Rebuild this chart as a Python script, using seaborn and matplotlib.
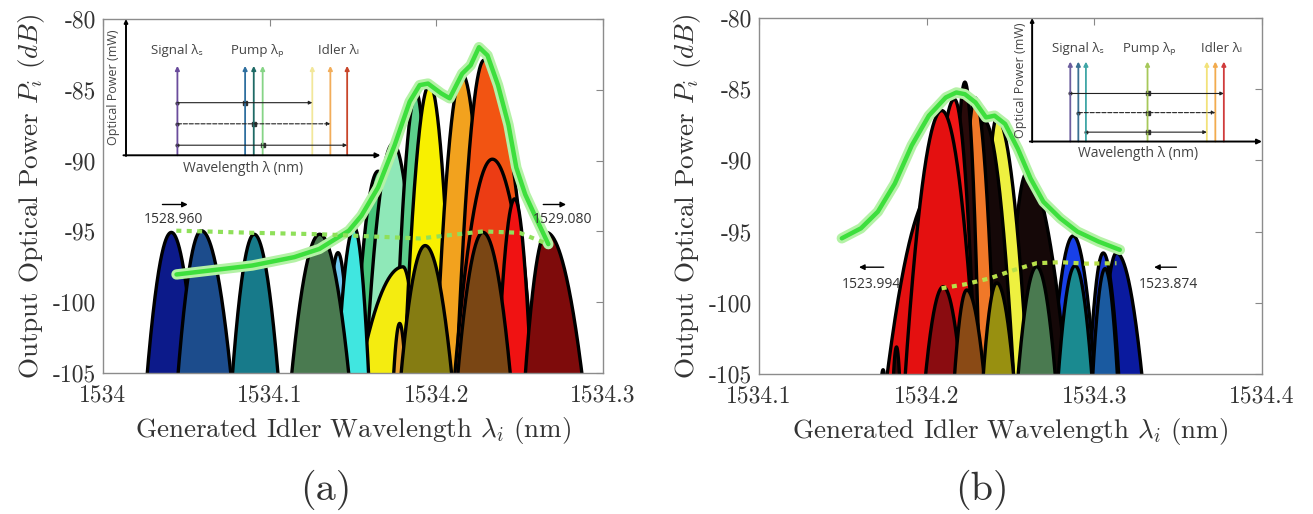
import numpy as np
import matplotlib
matplotlib.use("Agg")
import matplotlib.pyplot as plt
import seaborn as sns

sns.set_theme(style="white")
plt.rcParams["font.family"] = ["cmr10", "Liberation Serif", "DejaVu Serif"]
plt.rcParams["mathtext.fontset"] = "cm"
plt.rcParams["axes.unicode_minus"] = False
plt.rcParams["axes.formatter.use_mathtext"] = True

SANS = ["Open Sans", "DejaVu Sans"]
TXT = "#333333"
SHAPE = 2.0  # peak profile exponent (dB drop ~ |dx|^SHAPE)

# ---------------- panel (a) data ----------------
A_XTICKS = [1534.0, 1534.1, 1534.2, 1534.3]
A_XTICKLABELS = ["1534", "1534.1", "1534.2", "1534.3"]
YTICKS = [-105, -100, -95, -90, -85, -80]
YTICKLABELS = ["-105", "-100", "-95", "-90", "-85", "-80"]

# high (strong) idlers, drawn first, in this order
A_HI_CENTER = [1534.165, 1534.174, 1534.188, 1534.180, 1534.196, 1534.141, 1534.1507,
               1534.178, 1534.2155, 1534.2287, 1534.2336, 1534.247]
A_HI_PEAK = [-90.75, -88.8, -85.2, -97.5, -84.6, -96.5, -94.7,
             -101.5, -83.9, -82.9, -89.9, -92.7]
A_HI_WL = [0.012, 0.013, 0.009, 0.030, 0.0107, 0.008, 0.0100,
           0.006, 0.011, 0.0111, 0.0183, 0.0093]
A_HI_WR = [0.012, 0.013, 0.007, 0.010, 0.0098, 0.008, 0.0085,
           0.006, 0.011, 0.020, 0.020, 0.0088]
A_HI_COLOR = ["#46c47a", "#8fe8b8", "#5ccf8c", "#f4ec10", "#f8f000", "#70c8f0", "#40e6e0",
              "#e8a030", "#f2a21e", "#f25412", "#ec3c14", "#f01212"]

# low idlers, drawn on top
A_LO_CENTER = [1534.041, 1534.059, 1534.0907, 1534.130, 1534.1933, 1534.228, 1534.266]
A_LO_PEAK = [-95.07, -94.95, -95.2, -95.2, -96.0, -95.07, -95.07]
A_LO_WL = [0.0145, 0.0139, 0.0131, 0.0169, 0.0152, 0.0151, 0.0126]
A_LO_WR = [0.0145, 0.0176, 0.0144, 0.0176, 0.0167, 0.0164, 0.0214]
A_LO_COLOR = ["#0c1a8a", "#1c4c8c", "#177a8a", "#4a7a50", "#857c12", "#7a4614", "#7e0b0b"]

A_ENV_X = [1534.0441, 1534.0895, 1534.1147, 1534.1298, 1534.1475, 1534.155, 1534.165,
           1534.175, 1534.184, 1534.190, 1534.195, 1534.203, 1534.208, 1534.2155,
           1534.2206, 1534.2256, 1534.2307, 1534.237, 1534.2433, 1534.248, 1534.2533,
           1534.2596, 1534.2672]
A_ENV_Y = [-98.04, -97.41, -96.82, -96.24, -94.95, -93.9, -91.9,
           -88.9, -85.84, -84.67, -84.56, -85.26, -85.6, -83.86,
           -83.27, -81.99, -82.57, -84.67, -87.48, -90.5, -92.38,
           -94.0, -95.9]

A_DOT_X = [1534.044, 1534.06, 1534.09, 1534.13, 1534.15, 1534.19, 1534.228, 1534.25, 1534.267]
A_DOT_Y = [-94.95, -95.0, -95.1, -95.2, -95.3, -95.5, -95.0, -95.1, -95.9]

# ---------------- panel (b) data ----------------
B_XTICKS = [1534.1, 1534.2, 1534.3, 1534.4]
B_XTICKLABELS = ["1534.1", "1534.2", "1534.3", "1534.4"]

# high idlers, drawn right to left
B_HI_CENTER = [1534.3132, 1534.3053, 1534.2874, 1534.262, 1534.2596, 1534.2418,
               1534.2342, 1534.2288, 1534.2228, 1534.2165, 1534.205, 1534.209,
               1534.182, 1534.174]
B_HI_PEAK = [-96.5, -96.5, -95.3, -92.8, -90.9, -87.0,
             -87.2, -85.6, -84.5, -85.7, -92.0, -86.5,
             -103.1, -104.7]
B_HI_WL = [0.010, 0.009, 0.013, 0.008, 0.010, 0.007,
           0.008, 0.007, 0.006, 0.012, 0.025, 0.016,
           0.004, 0.004]
B_HI_WR = [0.0164, 0.010, 0.013, 0.016, 0.020, 0.0138,
           0.0132, 0.0086, 0.0060, 0.0090, 0.014, 0.015,
           0.004, 0.004]
B_HI_COLOR = ["#0a1a9e", "#1a3ad6", "#1840e8", "#50c8e8", "#150808", "#eef040",
              "#150808", "#f07828", "#2a0a0a", "#f01616", "#e41010", "#e41010",
              "#3a0808", "#3a0808"]

B_LO_CENTER = [1534.2099, 1534.2239, 1534.2418, 1534.2656, 1534.2885, 1534.3064]
B_LO_PEAK = [-98.87, -99.1, -98.6, -97.46, -97.4, -97.6]
B_LO_WL = [0.0134, 0.0094, 0.0100, 0.0127, 0.0114, 0.0085]
B_LO_WR = [0.0134, 0.0133, 0.0125, 0.0127, 0.0114, 0.0085]
B_LO_COLOR = ["#8a0c10", "#8a4a15", "#989010", "#4a7a50", "#1a8a90", "#1a5aa0"]

B_ENV_X = [1534.1494, 1534.1608, 1534.1709, 1534.181, 1534.1911, 1534.2013, 1534.2114,
           1534.2177, 1534.2228, 1534.2291, 1534.2354, 1534.2405, 1534.2468, 1534.2544,
           1534.262, 1534.2696, 1534.2797, 1534.2899, 1534.3025, 1534.3152]
B_ENV_Y = [-95.47, -94.77, -93.6, -91.63, -88.95, -86.86, -85.58,
           -85.23, -85.35, -85.93, -86.98, -86.86, -87.44, -89.19,
           -91.28, -92.9, -94.07, -95.0, -95.7, -96.28]

B_DOT_X = [1534.2089, 1534.223, 1534.2377, 1534.252, 1534.2655, 1534.28, 1534.295, 1534.3132]
B_DOT_Y = [-98.98, -98.7, -98.28, -97.7, -97.22, -97.15, -97.25, -97.22]

# ---------------- inset schematics ----------------
A_INS_LINE_X = [0.202, 0.468, 0.502, 0.537, 0.732, 0.803, 0.869]
A_INS_LINE_C = ["#6a4c9c", "#2f6f9f", "#1f6a66", "#86d486", "#f2e79a", "#f2ad5a", "#c8452a"]
A_INS_ARR_Y = [0.386, 0.231, 0.074]
A_INS_ARR_FROM = [0.202, 0.202, 0.202]
A_INS_ARR_TO = [0.732, 0.803, 0.869]
A_INS_ARR_MARK = [0.468, 0.502, 0.537]
A_INS_LAB_X = [0.198, 0.516, 0.835]

B_INS_LINE_X = [0.166, 0.201, 0.234, 0.502, 0.760, 0.797, 0.834]
B_INS_LINE_C = ["#6c5e9e", "#3a7092", "#3fa6a6", "#a6c85a", "#f2e27a", "#f2ab4e", "#d03c3c"]
B_INS_ARR_Y = [0.389, 0.234, 0.076]
B_INS_ARR_FROM = [0.166, 0.201, 0.234]
B_INS_ARR_TO = [0.834, 0.797, 0.760]
B_INS_ARR_MARK = [0.502, 0.502, 0.502]
B_INS_LAB_X = [0.197, 0.511, 0.825]

INS_LABELS = ["Signal λₛ", "Pump λₚ", "Idler λᵢ"]
ARR_STYLES = ["-", "--", "-"]


def peak_curve(x, c, pk, wl, wr):
    d = x - c
    w = np.where(d < 0, wl, wr)
    return pk - 10.0 * (np.abs(d) / w) ** SHAPE


def draw_peaks(ax, x, centers, peaks, wls, wrs, colors):
    for c, pk, wl, wr, col in zip(centers, peaks, wls, wrs, colors):
        y = peak_curve(x, c, pk, wl, wr)
        m = y > -106
        ax.fill_between(x[m], -106, y[m], color=col, lw=0, zorder=2)
        ax.plot(x[m], y[m], color="black", lw=2.4, zorder=2)


def draw_inset(ax, rect, line_x, line_c, top, arr_y, arr_from, arr_to, arr_mark, lab_x, lab_y):
    ins = ax.inset_axes(rect)
    ins.set_xlim(0, 1)
    ins.set_ylim(0, 1)
    ins.axis("off")
    ins.patch.set_alpha(0)
    for x, c in zip(line_x, line_c):
        ins.annotate("", xy=(x, top), xytext=(x, 0),
                     arrowprops=dict(arrowstyle="-|>", color=c, lw=1.3,
                                     mutation_scale=6, shrinkA=0, shrinkB=0))
    for y, x0, x1, xm, ls in zip(arr_y, arr_from, arr_to, arr_mark, ARR_STYLES):
        ins.annotate("", xy=(x1, y), xytext=(x0, y),
                     arrowprops=dict(arrowstyle="-|>", color="#222222", lw=0.8, ls=ls,
                                     mutation_scale=5, shrinkA=0, shrinkB=0))
        ins.plot([xm], [y], marker="s", ms=3, color="#333333")
        ins.plot([x0], [y], marker="o", ms=2, color="#333333")
    ins.annotate("", xy=(0, 1.0), xytext=(0, -0.005),
                 arrowprops=dict(arrowstyle="-|>", color="black", lw=1.4,
                                 mutation_scale=5, shrinkA=0, shrinkB=0))
    ins.annotate("", xy=(1.0, 0), xytext=(-0.01, 0),
                 arrowprops=dict(arrowstyle="-|>", color="black", lw=1.4,
                                 mutation_scale=7, shrinkA=0, shrinkB=0))
    for x, t in zip(lab_x, INS_LABELS):
        ins.text(x, lab_y, t, ha="center", va="center", fontsize=9.5,
                 family=SANS, color="#444444")
    ins.text(-0.05, 0.5, "Optical Power (mW)", rotation=90, ha="center", va="center",
             fontsize=9, family=SANS, color="#444444")
    ins.text(0.46, -0.1, "Wavelength λ (nm)", ha="center", va="center",
             fontsize=10, family=SANS, color="#444444")


def style_axes(ax, xlim, xticks, xticklabels):
    ax.set_xlim(*xlim)
    ax.set_ylim(-105, -80)
    ax.set_xticks(xticks)
    ax.set_xticklabels(xticklabels)
    ax.set_yticks(YTICKS)
    ax.set_yticklabels(YTICKLABELS)
    ax.tick_params(direction="in", length=5, width=0.8, color="#888888",
                   top=True, right=True, labelsize=17, labelcolor=TXT, pad=8)
    ax.tick_params(axis="y", pad=5)
    for s in ax.spines.values():
        s.set_color("#8c8c8c")
        s.set_linewidth(1.0)
    ax.set_xlabel(r"Generated Idler Wavelength $\lambda_i$ (nm)", fontsize=19.5,
                  color=TXT, labelpad=6)
    ax.set_ylabel(r"Output Optical Power $P_i$ $(dB)$", fontsize=19.5, color=TXT, labelpad=4)


def draw_lines(ax, ex, ey, dx, dy, dot_color):
    sns.lineplot(x=ex, y=ey, ax=ax, color="#b4f2a6", lw=7.5, zorder=5, sort=False)
    sns.lineplot(x=ex, y=ey, ax=ax, color="#3ddf3d", lw=3.2, zorder=6, sort=False)
    sns.lineplot(x=dx, y=dy, ax=ax, color=dot_color, lw=3.0, zorder=6, sort=False,
                 linestyle=(0, (1.2, 1.3)))


fig = plt.figure(figsize=(13.13, 5.14), dpi=100)
ax_a = fig.add_axes([103 / 1313, 1 - 373 / 514, 500 / 1313, 354 / 514])
ax_b = fig.add_axes([759 / 1313, 1 - 374 / 514, 503 / 1313, 356 / 514])

# panel (a)
xa = np.linspace(1534.0, 1534.3, 3000)
draw_peaks(ax_a, xa, A_HI_CENTER, A_HI_PEAK, A_HI_WL, A_HI_WR, A_HI_COLOR)
draw_peaks(ax_a, xa, A_LO_CENTER, A_LO_PEAK, A_LO_WL, A_LO_WR, A_LO_COLOR)
draw_lines(ax_a, A_ENV_X, A_ENV_Y, A_DOT_X, A_DOT_Y, "#8fe05a")
style_axes(ax_a, (1534.0, 1534.3), A_XTICKS, A_XTICKLABELS)
ax_a.annotate("", xy=(1534.0525, -93.1), xytext=(1534.034, -93.1),
              arrowprops=dict(arrowstyle="-|>", color="black", lw=1, mutation_scale=8))
ax_a.text(1534.042, -94.15, "1528.960", ha="center", va="center", fontsize=10,
          family=SANS, color="#333333", zorder=8)
ax_a.annotate("", xy=(1534.2795, -93.1), xytext=(1534.2625, -93.1),
              arrowprops=dict(arrowstyle="-|>", color="black", lw=1, mutation_scale=8))
ax_a.text(1534.276, -94.15, "1529.080", ha="center", va="center", fontsize=10,
          family=SANS, color="#333333", zorder=8)
draw_inset(ax_a, [0.046, 0.615, 0.509, 0.385], A_INS_LINE_X, A_INS_LINE_C, 0.656,
           A_INS_ARR_Y, A_INS_ARR_FROM, A_INS_ARR_TO, A_INS_ARR_MARK, A_INS_LAB_X, 0.767)

# panel (b)
xb = np.linspace(1534.1, 1534.4, 3000)
draw_peaks(ax_b, xb, B_HI_CENTER, B_HI_PEAK, B_HI_WL, B_HI_WR, B_HI_COLOR)
draw_peaks(ax_b, xb, B_LO_CENTER, B_LO_PEAK, B_LO_WL, B_LO_WR, B_LO_COLOR)
draw_lines(ax_b, B_ENV_X, B_ENV_Y, B_DOT_X, B_DOT_Y, "#b8e04a")
style_axes(ax_b, (1534.1, 1534.4), B_XTICKS, B_XTICKLABELS)
ax_b.annotate("", xy=(1534.158, -97.5), xytext=(1534.176, -97.5),
              arrowprops=dict(arrowstyle="-|>", color="black", lw=1, mutation_scale=8))
ax_b.text(1534.167, -98.75, "1523.994", ha="center", va="center", fontsize=10,
          family=SANS, color="#333333", zorder=8)
ax_b.annotate("", xy=(1534.334, -97.5), xytext=(1534.3506, -97.5),
              arrowprops=dict(arrowstyle="-|>", color="black", lw=1, mutation_scale=8))
ax_b.text(1534.344, -98.75, "1523.874", ha="center", va="center", fontsize=10,
          family=SANS, color="#333333", zorder=8)
draw_inset(ax_b, [0.543, 0.653, 0.457, 0.347], B_INS_LINE_X, B_INS_LINE_C, 0.647,
           B_INS_ARR_Y, B_INS_ARR_FROM, B_INS_ARR_TO, B_INS_ARR_MARK, B_INS_LAB_X, 0.755)

fig.text(0.248, 0.047, "(a)", ha="center", va="center", fontsize=29, color=TXT)
fig.text(0.748, 0.047, "(b)", ha="center", va="center", fontsize=29, color=TXT)

fig.savefig("out.png", dpi=100)
